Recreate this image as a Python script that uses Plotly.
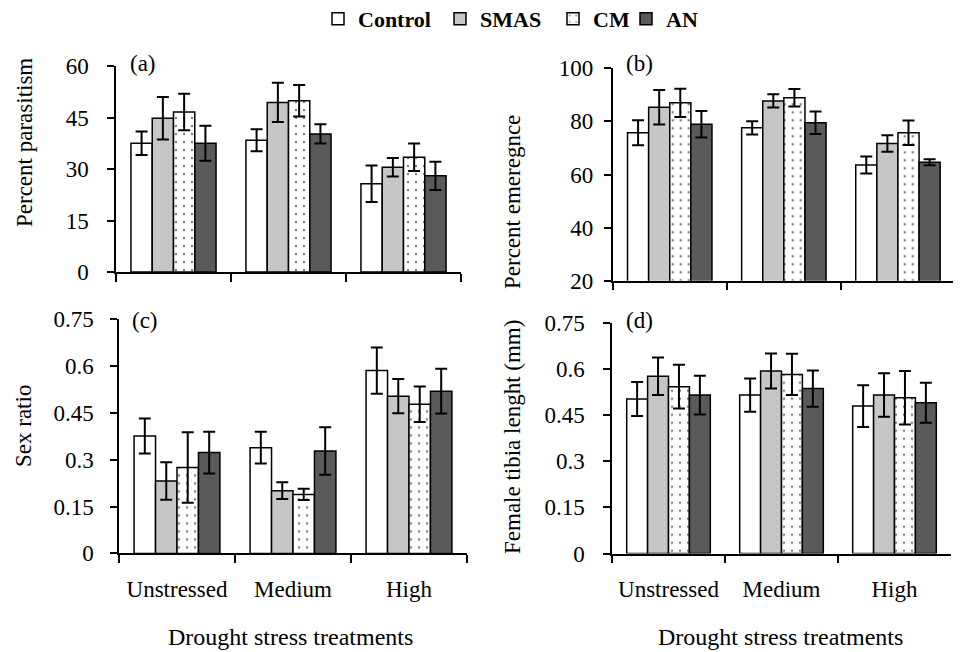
import plotly.graph_objects as go

categories = ["Unstressed", "Medium", "High"]
treatments = ["Control", "SMAS", "CM", "AN"]

# (a) Percent parasitism
a_vals = {
    "Control": [37.5, 38.4, 25.7],
    "SMAS": [44.8, 49.4, 30.5],
    "CM": [46.6, 49.9, 33.4],
    "AN": [37.5, 40.2, 28.0],
}
a_err = {
    "Control": [3.4, 3.2, 5.3],
    "SMAS": [6.2, 5.7, 2.7],
    "CM": [5.3, 4.6, 4.0],
    "AN": [5.1, 2.8, 4.1],
}
# (b) Percent emergence
b_vals = {
    "Control": [75.7, 77.6, 63.6],
    "SMAS": [85.3, 87.7, 71.7],
    "CM": [87.0, 88.9, 75.7],
    "AN": [78.9, 79.5, 64.6],
}
b_err = {
    "Control": [4.7, 2.5, 3.2],
    "SMAS": [6.5, 2.5, 3.1],
    "CM": [5.3, 3.3, 4.6],
    "AN": [5.0, 4.2, 1.1],
}
# (c) Sex ratio
c_vals = {
    "Control": [0.376, 0.339, 0.586],
    "SMAS": [0.232, 0.201, 0.504],
    "CM": [0.275, 0.189, 0.478],
    "AN": [0.323, 0.328, 0.520],
}
c_err = {
    "Control": [0.056, 0.051, 0.074],
    "SMAS": [0.060, 0.027, 0.055],
    "CM": [0.113, 0.018, 0.057],
    "AN": [0.067, 0.076, 0.072],
}
# (d) Female tibia length
d_vals = {
    "Control": [0.502, 0.515, 0.479],
    "SMAS": [0.576, 0.593, 0.515],
    "CM": [0.542, 0.582, 0.506],
    "AN": [0.515, 0.536, 0.490],
}
d_err = {
    "Control": [0.055, 0.054, 0.068],
    "SMAS": [0.061, 0.057, 0.071],
    "CM": [0.071, 0.067, 0.087],
    "AN": [0.063, 0.059, 0.065],
}

a_ticks = [0, 15, 30, 45, 60]
b_ticks = [20, 40, 60, 80, 100]
cd_ticks = [0, 0.15, 0.3, 0.45, 0.6, 0.75]
cd_ticktext = ["0", "0.15", "0.3", "0.45", "0.6", "0.75"]

y_titles = ["Percent parasitism", "Percent emeregnce", "Sex ratio", "Female tibia lenght (mm)"]
panel_labels = ["(a)", "(b)", "(c)", "(d)"]
x_title = "Drought stress treatments"

FONT = "Liberation Serif"
OFF = 8  # page body margin in the browser
W, H = 961 - OFF, 652 - OFF

styles = {
    "Control": dict(color="white"),
    "SMAS": dict(color="#c6c6c6"),
    "CM": dict(color="white", pattern=dict(shape=".", fgcolor="black", bgcolor="white", size=8, solidity=0.07)),
    "AN": dict(color="#5a5a5a"),
}
legend_ids = {"Control": "legend", "SMAS": "legend2", "CM": "legend3", "AN": "legend4"}
legend_left = {"Control": 318, "SMAS": 440, "CM": 553, "AN": 626}

fig = go.Figure()
panels = [(a_vals, a_err, "x", "y"), (b_vals, b_err, "x2", "y2"),
          (c_vals, c_err, "x3", "y3"), (d_vals, d_err, "x4", "y4")]
for pi, (vals, errs, xa, ya) in enumerate(panels):
    for t in treatments:
        st = styles[t]
        marker = dict(color=st["color"], line=dict(color="black", width=1.5))
        if "pattern" in st:
            marker["pattern"] = st["pattern"]
        fig.add_trace(go.Bar(
            x=categories, y=vals[t], name=t, legendgroup=t, showlegend=(pi == 0),
            legend=legend_ids[t],
            marker=marker,
            error_y=dict(type="data", array=errs[t], color="black", thickness=2, width=6),
            xaxis=xa, yaxis=ya,
        ))

def px_x(p):
    return (p - OFF) / W

def px_y(p):
    return 1 - (p - OFF) / H

axis_common = dict(showline=True, linecolor="black", linewidth=1.5, showgrid=False, zeroline=False,
                   ticks="outside", tickcolor="black", tickwidth=1.5, mirror=False,
                   tickfont=dict(family=FONT, size=23, color="black"))

def xaxis(x0, x1, anchor, labels):
    d = dict(axis_common)
    d.update(domain=[px_x(x0), px_x(x1)], anchor=anchor, type="category",
             range=[-0.5, 2.5], tickson="boundaries", ticklen=8,
             showticklabels=labels, ticklabelstandoff=14)
    return d

def yaxis(y0, y1, anchor, rng, tv, tt, standoff):
    d = dict(axis_common)
    d.update(domain=[px_y(y1), px_y(y0)], anchor=anchor, range=rng,
             tickvals=tv, ticktext=tt, ticklen=7, ticklabelstandoff=standoff)
    return d

def legend_at(t):
    return dict(orientation="h", xref="paper", yref="paper",
                x=px_x(legend_left[t]), xanchor="left", y=px_y(-2), yanchor="top",
                font=dict(family=FONT, size=22, color="black", weight="bold"),
                bgcolor="rgba(0,0,0,0)", itemwidth=30)

fig.update_layout(
    width=W, height=H,
    margin=dict(l=0, r=0, t=0, b=0, autoexpand=False),
    paper_bgcolor="white", plot_bgcolor="white",
    font=dict(family=FONT, size=23, color="black"),
    barmode="group", bargap=0.26, bargroupgap=0,
    xaxis=xaxis(116, 461, "y", False),
    yaxis=yaxis(66, 272, "x", [0, 60], a_ticks, [str(v) for v in a_ticks], 14),
    xaxis2=xaxis(612.7, 955, "y2", False),
    yaxis2=yaxis(68.3, 280.7, "x2", [20, 100], b_ticks, [str(v) for v in b_ticks], 6),
    xaxis3=xaxis(119, 467, "y3", True),
    yaxis3=yaxis(319.4, 553.4, "x3", [0, 0.75], cd_ticks, cd_ticktext, 12),
    xaxis4=xaxis(612, 951, "y4", True),
    yaxis4=yaxis(322.7, 553.5, "x4", [0, 0.75], cd_ticks, cd_ticktext, 14),
    legend=legend_at("Control"),
    legend2=legend_at("SMAS"),
    legend3=legend_at("CM"),
    legend4=legend_at("AN"),
)

ann = []
# y axis titles
for txt, cx, cy in zip(y_titles, [24, 512, 24, 512], [143, 202, 426, 437]):
    ann.append(dict(text=txt, x=px_x(cx), y=px_y(cy), xref="paper", yref="paper",
                    textangle=-90, showarrow=False, xanchor="center", yanchor="middle",
                    font=dict(family=FONT, size=23, color="black")))
# panel labels
for txt, lx, cy in zip(panel_labels, [128, 624, 130, 624], [64, 64, 320, 320]):
    ann.append(dict(text=txt, x=px_x(lx), y=px_y(cy), xref="paper", yref="paper",
                    showarrow=False, xanchor="left", yanchor="middle",
                    font=dict(family=FONT, size=23, color="black")))
# x axis titles
for cx in [290, 780]:
    ann.append(dict(text=x_title, x=px_x(cx), y=px_y(637), xref="paper", yref="paper",
                    showarrow=False, xanchor="center", yanchor="middle",
                    font=dict(family=FONT, size=24, color="black")))
fig.update_layout(annotations=ann)

fig.write_html("out.html")
